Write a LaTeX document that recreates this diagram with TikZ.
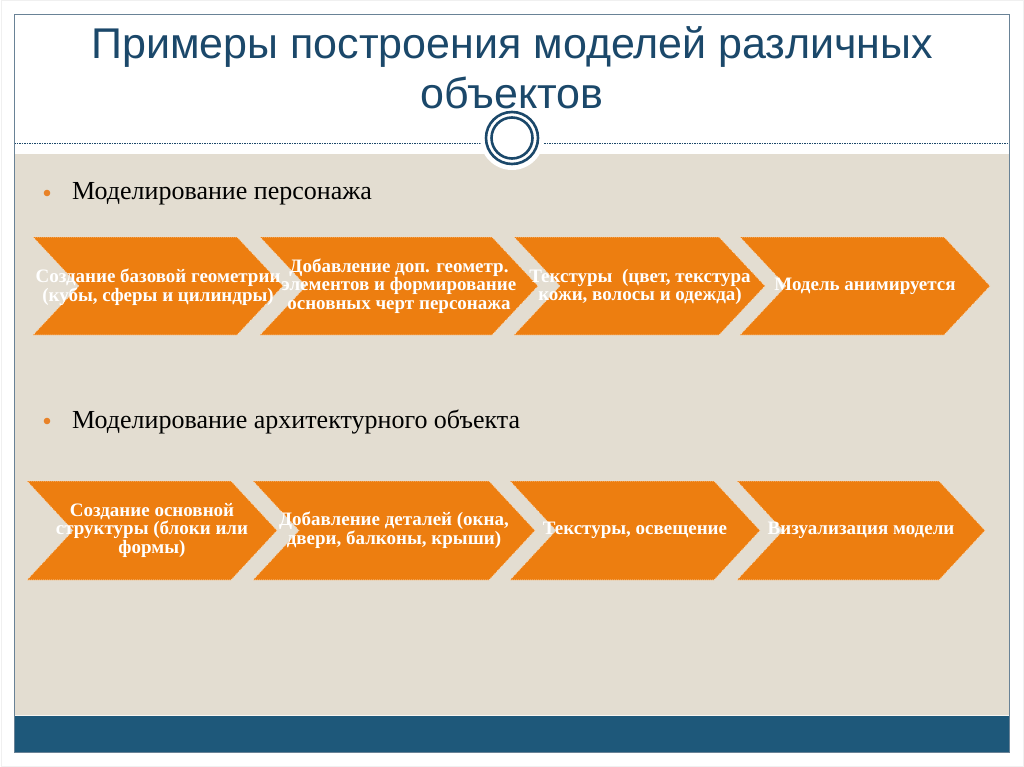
\documentclass[tikz,border=0pt]{standalone}
\usepackage{fontspec}
\setmainfont{Liberation Serif}
\newfontfamily\titlefont{Liberation Sans}
\definecolor{beige}{RGB}{227,221,209}
\definecolor{barblue}{RGB}{30,88,122}
\definecolor{titleblue}{RGB}{27,72,106}
\definecolor{framec}{RGB}{105,130,150}
\definecolor{chevorange}{RGB}{237,126,16}
\definecolor{bulletc}{RGB}{232,130,40}
\newcommand{\mychev}[4]{%
  \fill[chevfill] (#1,#3) -- ({#2-46},#3) -- (#2,{(#3+#4)/2}) -- ({#2-46},#4) -- (#1,#4) -- ({#1+46},{(#3+#4)/2}) -- cycle;
  \draw[chevedge] (#1,#3) -- ({#2-46},#3) -- (#2,{(#3+#4)/2}) -- ({#2-46},#4) -- (#1,#4) -- ({#1+46},{(#3+#4)/2}) -- cycle;}
\tikzset{
  chevfill/.style={fill=chevorange},
  chevedge/.style={draw=white!75!chevorange, line width=0.6pt, dash pattern=on 1pt off 1pt},
  chevtext/.style={text=white, align=center, font=\fontsize{19}{18.5}\selectfont\bfseries, inner sep=0pt},
  titletext/.style={text=titleblue, font=\titlefont\fontsize{43}{48}\selectfont, inner sep=0pt, anchor=base},
  bullettext/.style={text=black, font=\fontsize{26}{30}\selectfont, inner sep=0pt, anchor=base west},
  ring/.style={draw=titleblue, line width=2.6pt},
}
\begin{document}
\begin{tikzpicture}[x=1pt,y=-1pt]
\useasboundingbox (0,0) rectangle (1024,767);
\fill[white] (0,0) rectangle (1024,767);
\draw[black!6, line width=1pt] (1,1) rectangle (1023,766);
% panels
\fill[beige] (14,154) rectangle (1009,716);
\fill[barblue] (14,716) rectangle (1009,752);
\draw[white!70!beige, line width=1pt] (14,715.5) -- (1009,715.5);
\draw[titleblue, line width=0.6pt, dash pattern=on 1.5pt off 1pt] (14,143) -- (1009,143);
\fill[white] (512,138) circle (32);
\draw[ring] (512,138) circle (26);
\draw[ring] (512,138) circle (20.5);
\draw[framec, line width=1pt] (14,15) rectangle (1009,752);
% title
\node[titletext] (title1) at (512,59) {Примеры построения моделей различных};
\node[titletext] (title2) at (512,109) {объектов};
% bullets
\fill[bulletc] (47,193) circle (3.3);
\node[bullettext] (b1) at (72,200) {Моделирование персонажа};
\fill[bulletc] (47,421) circle (3.3);
\node[bullettext] (b2) at (72,428) {Моделирование архитектурного объекта};
% row 1
\mychev{33}{283}{237}{335}
\mychev{260}{538}{237}{335}
\mychev{514}{765}{237}{335}
\mychev{740}{990}{237}{335}
\node[chevtext] (r1a) at (158,287) {Создание базовой геометрии\\(кубы, сферы и цилиндры)};
\node[chevtext] (r1b) at (399,286) {Добавление доп. геометр.\\элементов и формирование\\основных черт персонажа};
\node[chevtext] (r1c) at (640,287) {Текстуры~ (цвет, текстура\\кожи, волосы и одежда)};
\node[chevtext] (r1d) at (865,286) {Модель анимируется};
% row 2
\mychev{27}{277}{481}{580}
\mychev{253}{535}{481}{580}
\mychev{510}{760}{481}{580}
\mychev{737}{985}{481}{580}
\node[chevtext] (r2a) at (152,530) {Создание основной\\структуры (блоки или\\формы)};
\node[chevtext] (r2b) at (394,530) {Добавление деталей (окна,\\двери, балконы, крыши)};
\node[chevtext] (r2c) at (635,530) {Текстуры, освещение};
\node[chevtext] (r2d) at (861,530) {Визуализация модели};
\end{tikzpicture}
\end{document}
